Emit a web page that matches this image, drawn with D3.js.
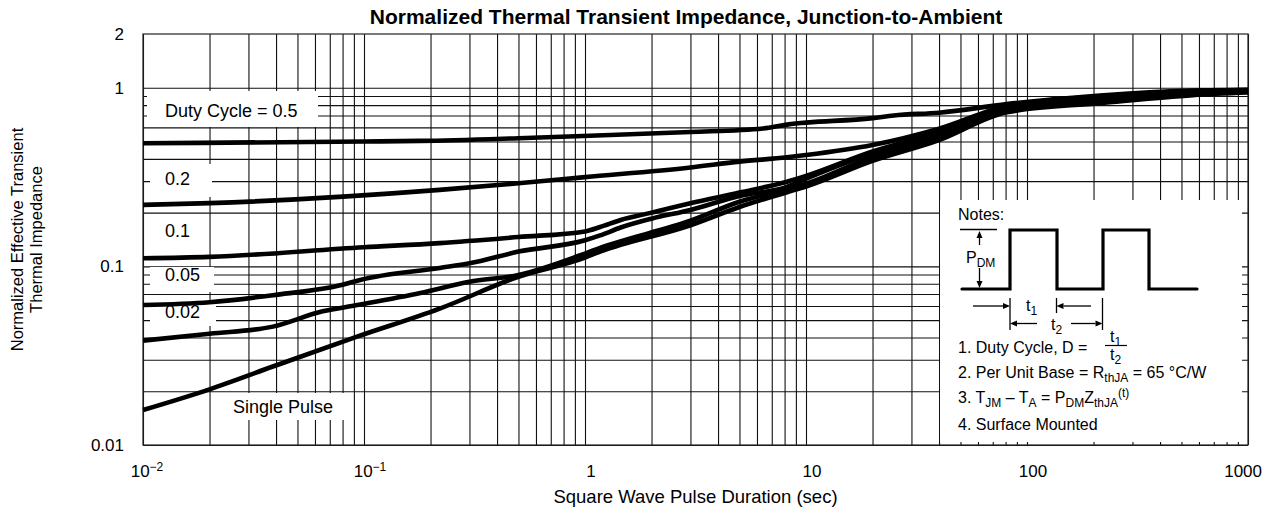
<!DOCTYPE html>
<meta charset="utf-8">
<script src="https://d3js.org/d3.v7.min.js"></script>
<style>
  body { margin: 0; background: #fff; }
  text { font-family: "Liberation Sans", Arial, Helvetica, sans-serif; fill: #000; }
</style>
<div id="chart"></div>
<script>

// ---- data ----
var xTickValues = [0.01, 0.1, 1, 10, 100, 1000];
var xTickBase   = ["10", "10", "1", "10", "100", "1000"];
var xTickExp    = ["\u22122", "\u22121", "", "", "", ""];
var yTickValues = [0.01, 0.1, 1, 2];
var yTickLabels = ["0.01", "0.1", "1", "2"];

var seriesNames = ["0.5", "0.2", "0.1", "0.05", "0.02", "Single Pulse"];

var duty05 = [[0.01,0.489],[0.1,0.50],[0.18,0.504],[0.5,0.522],[1.3,0.544],[3,0.565],[6.4,0.592],
  [8.2,0.622],[20,0.676],[25,0.70],[40,0.725],[81,0.81],[214,0.905],[564,0.965],[1000,0.975]];
var duty02 = [[0.01,0.221],[0.02,0.226],[0.22,0.268],[0.5,0.292],[1,0.316],[3,0.358],[5,0.386],
  [8.2,0.408],[10,0.42],[20,0.478],[40,0.59],[81,0.79],[214,0.895],[564,0.96],[1000,0.97]];
var duty01 = [[0.01,0.111],[0.02,0.113],[0.1,0.128],[0.22,0.135],[0.5,0.146],[1,0.157],[1.17,0.166],
  [1.45,0.182],[2,0.20],[3,0.226],[5,0.259],[8.2,0.298],[10,0.321],[20,0.44],[40,0.565],
  [81,0.775],[214,0.88],[564,0.95],[1000,0.965]];
var duty005 = [[0.01,0.0608],[0.02,0.063],[0.0387,0.069],[0.08,0.079],[0.096,0.084],[0.22,0.098],
  [0.3,0.104],[0.5,0.121],[1,0.14],[1.17,0.149],[1.45,0.165],[2,0.185],[3,0.207],[5,0.248],
  [8.2,0.279],[10,0.31],[20,0.43],[40,0.55],[81,0.765],[214,0.87],[564,0.945],[1000,0.96]];
var duty002 = [[0.01,0.0384],[0.02,0.042],[0.0387,0.046],[0.065,0.056],[0.093,0.0607],[0.18,0.071],
  [0.3,0.082],[0.5,0.0895],[1,0.118],[1.17,0.127],[3,0.18],[5,0.23],[8.2,0.27],[10,0.29],
  [20,0.41],[40,0.53],[81,0.75],[214,0.85],[564,0.935],[1000,0.955]];
var singlePulse = [[0.01,0.0157],[0.02,0.0205],[0.0387,0.0275],[0.093,0.0404],[0.22,0.058],
  [0.5,0.0875],[1,0.112],[1.17,0.121],[3,0.17],[5,0.215],[8.2,0.26],[10,0.28],[20,0.39],
  [40,0.51],[81,0.73],[214,0.82],[564,0.91],[1000,0.94]];

var seriesData = [duty05, duty02, duty01, duty005, duty002, singlePulse];

// ---- layout ----
var W = 1267, H = 511;
var margin = {top: 34, right: 19, bottom: 66, left: 143},
  width = W - margin.left - margin.right,
  height = H - margin.top - margin.bottom;

var svg = d3.select("#chart").append("svg")
  .attr("width", W).attr("height", H);

var g = svg.append("g")
  .attr("transform", "translate(" + margin.left + "," + margin.top + ")");

var x = d3.scaleLog().domain([0.01, 1000]).range([0, width]);
var y = d3.scaleLog().domain([0.01, 2]).range([height, 0]);

// minor grid values 1..9 per decade
var xGrid = [];
for (var e = -2; e <= 2; e++) for (var k = 1; k <= 9; k++) xGrid.push(k * Math.pow(10, e));
xGrid.push(1000);
var yGrid = [];
for (var e2 = -2; e2 <= -1; e2++) for (var k2 = 1; k2 <= 9; k2++) yGrid.push(+(k2 * Math.pow(10, e2)).toFixed(3));
yGrid.push(1);

// grid via axes
g.append("g")
  .attr("class", "grid")
  .attr("transform", "translate(0," + height + ")")
  .call(d3.axisBottom(x).tickValues(xGrid).tickSize(-height).tickFormat(""))
  .call(function(s){ s.select(".domain").remove(); });

g.append("g")
  .attr("class", "grid")
  .call(d3.axisLeft(y).tickValues(yGrid).tickSize(-width).tickFormat(""))
  .call(function(s){ s.select(".domain").remove(); });

g.selectAll(".grid line").attr("stroke", "#111").attr("stroke-width", 1.1);

// white label boxes that cut the grid
var boxes = [
  {x: 4,   y: 57,  w: 171, h: 36},   // Duty Cycle = 0.5
  {x: 7,   y: 130, w: 62,  h: 33},   // 0.2
  {x: 7,   y: 182, w: 58,  h: 30},   // 0.1
  {x: 7,   y: 233, w: 64,  h: 25},   // 0.05
  {x: 7,   y: 266, w: 66,  h: 26},   // 0.02
  {x: 86,  y: 359, w: 123, h: 27}    // Single Pulse
];
g.selectAll(".lblbox").data(boxes).enter().append("rect")
  .attr("x", function(d){ return d.x; })
  .attr("y", function(d){ return d.y; })
  .attr("width", function(d){ return d.w; })
  .attr("height", function(d){ return d.h; })
  .attr("fill", "#fff");

// notes panel background
var notesX = x(40) + 1, notesY = 200 - margin.top;
g.append("rect")
  .attr("x", notesX).attr("y", notesY)
  .attr("width", width - 6 - notesX).attr("height", 242)
  .attr("fill", "#fff");

// frame
g.append("rect")
  .attr("x", 0).attr("y", 0).attr("width", width).attr("height", height)
  .attr("fill", "none").attr("stroke", "#222").attr("stroke-width", 1.2);

// curves
var line = d3.line()
  .x(function(d){ return x(d[0]); })
  .y(function(d){ return y(d[1]); })
  .curve(d3.curveMonotoneX);

g.selectAll(".curve").data(seriesData).enter().append("path")
  .attr("d", line)
  .attr("fill", "none")
  .attr("stroke", "#000")
  .attr("stroke-width", 4.6)
  .attr("stroke-linejoin", "round");

// curve labels
var lblPos = [[22, 83], [22, 151], [22, 203], [22, 247], [22, 284], [90, 379]];
g.selectAll(".clabel").data(seriesNames).enter().append("text")
  .attr("x", function(d, i){ return lblPos[i][0]; })
  .attr("y", function(d, i){ return lblPos[i][1]; })
  .style("font-size", "18px")
  .text(function(d, i){ return i === 0 ? "Duty Cycle = " + d : d; });

// y tick labels
g.selectAll(".ytl").data(yTickValues).enter().append("text")
  .attr("x", -19)
  .attr("y", function(d){ return y(d); })
  .attr("dy", "0.35em")
  .attr("text-anchor", "end")
  .style("font-size", "17px")
  .text(function(d, i){ return yTickLabels[i]; });

// x tick labels
var xt = g.selectAll(".xtl").data(xTickValues).enter().append("text")
  .attr("x", function(d, i){ return i === xTickValues.length - 1 ? width + 14 : x(d) + (i === 0 ? 4 : 6); })
  .attr("y", height + 32)
  .attr("text-anchor", function(d, i){ return i === xTickValues.length - 1 ? "end" : "middle"; })
  .style("font-size", "17px");
xt.append("tspan").text(function(d, i){ return xTickBase[i]; });
xt.append("tspan")
  .attr("dy", -6)
  .style("font-size", "12px")
  .text(function(d, i){ return xTickExp[i]; });

// titles
svg.append("text")
  .attr("x", 686).attr("y", 24)
  .attr("text-anchor", "middle")
  .style("font-size", "21px").style("font-weight", "bold")
  .text("Normalized Thermal Transient Impedance, Junction-to-Ambient");

svg.append("text")
  .attr("x", margin.left + width / 2).attr("y", 503)
  .attr("text-anchor", "middle")
  .style("font-size", "18.5px")
  .text("Square Wave Pulse Duration (sec)");

[["Normalized Effective Transient", 23], ["Thermal Impedance", 42]].forEach(function(l){
  svg.append("text")
    .attr("transform", "translate(" + l[1] + "," + (margin.top + height / 2) + ") rotate(-90)")
    .attr("text-anchor", "middle")
    .style("font-size", "16.5px")
    .text(l[0]);
});

// ---- notes panel ----
var nb = svg.append("g").attr("transform", "translate(940,200)");

function rich(sel, px, py, parts, size) {
  var t = sel.append("text").attr("x", px).attr("y", py).style("font-size", size + "px");
  var cur = 0;
  parts.forEach(function(p){
    var target = p[1] === "sub" ? 4 : (p[1] === "sup" ? -6 : 0);
    t.append("tspan")
      .attr("dy", target - cur)
      .style("font-size", (p[1] ? Math.round(size * 0.75) : size) + "px")
      .text(p[0]);
    cur = target;
  });
  return t;
}

function arrow(sel, x1, y1, x2, y2) {
  var a = Math.atan2(y2 - y1, x2 - x1), L = 7, w = 3;
  var bx = x2 - L * Math.cos(a), by = y2 - L * Math.sin(a);
  sel.append("line").attr("x1", x1).attr("y1", y1).attr("x2", bx).attr("y2", by)
    .attr("stroke", "#000").attr("stroke-width", 1.3);
  sel.append("path")
    .attr("d", "M" + x2 + "," + y2 +
      "L" + (bx + w * Math.sin(a)) + "," + (by - w * Math.cos(a)) +
      "L" + (bx - w * Math.sin(a)) + "," + (by + w * Math.cos(a)) + "Z")
    .attr("fill", "#000");
}

rich(nb, 18, 20, [["Notes:"]], 16);

// waveform
nb.append("path")
  .attr("d", "M22,89H70V30H117V89H163V30H209V89H257")
  .attr("fill", "none").attr("stroke", "#000").attr("stroke-width", 3.2)
  .attr("stroke-linecap", "round").attr("stroke-linejoin", "miter");

// P_DM dimension
nb.append("line").attr("x1", 20).attr("y1", 29.5).attr("x2", 57).attr("y2", 29.5)
  .attr("stroke", "#000").attr("stroke-width", 1.5);
arrow(nb, 39.5, 45, 39.5, 31);
arrow(nb, 39.5, 68, 39.5, 88);
rich(nb, 26, 63, [["P"], ["DM", "sub"]], 16);

// t1 / t2 dimensions
[[70, 130], [116.5, 113], [162.5, 130]].forEach(function(v){
  nb.append("line").attr("x1", v[0]).attr("y1", 98).attr("x2", v[0]).attr("y2", v[1])
    .attr("stroke", "#000").attr("stroke-width", 1.3);
});
arrow(nb, 33, 106, 70, 106);
arrow(nb, 151, 106, 116.5, 106);
rich(nb, 86, 111, [["t"], ["1", "sub"]], 16);
arrow(nb, 97, 123.5, 70, 123.5);
arrow(nb, 131, 123.5, 162.5, 123.5);
rich(nb, 111, 130, [["t"], ["2", "sub"]], 16);

// notes text
rich(nb, 18, 153, [["1. Duty Cycle, D = "]], 16);
rich(nb, 170, 142, [["t"], ["1", "sub"]], 16);
nb.append("line").attr("x1", 165).attr("y1", 145.5).attr("x2", 187).attr("y2", 145.5)
  .attr("stroke", "#000").attr("stroke-width", 1.2);
rich(nb, 170, 160, [["t"], ["2", "sub"]], 16);
rich(nb, 18, 178, [["2. Per Unit Base = R"], ["thJA", "sub"], [" = 65 \u00B0C/W"]], 16);
rich(nb, 18, 203, [["3. T"], ["JM", "sub"], [" \u2013 T"], ["A", "sub"], [" = P"], ["DM", "sub"],
  ["Z"], ["thJA", "sub"], ["(t)", "sup"]], 16);
rich(nb, 18, 230, [["4. Surface Mounted"]], 16);

</script>
